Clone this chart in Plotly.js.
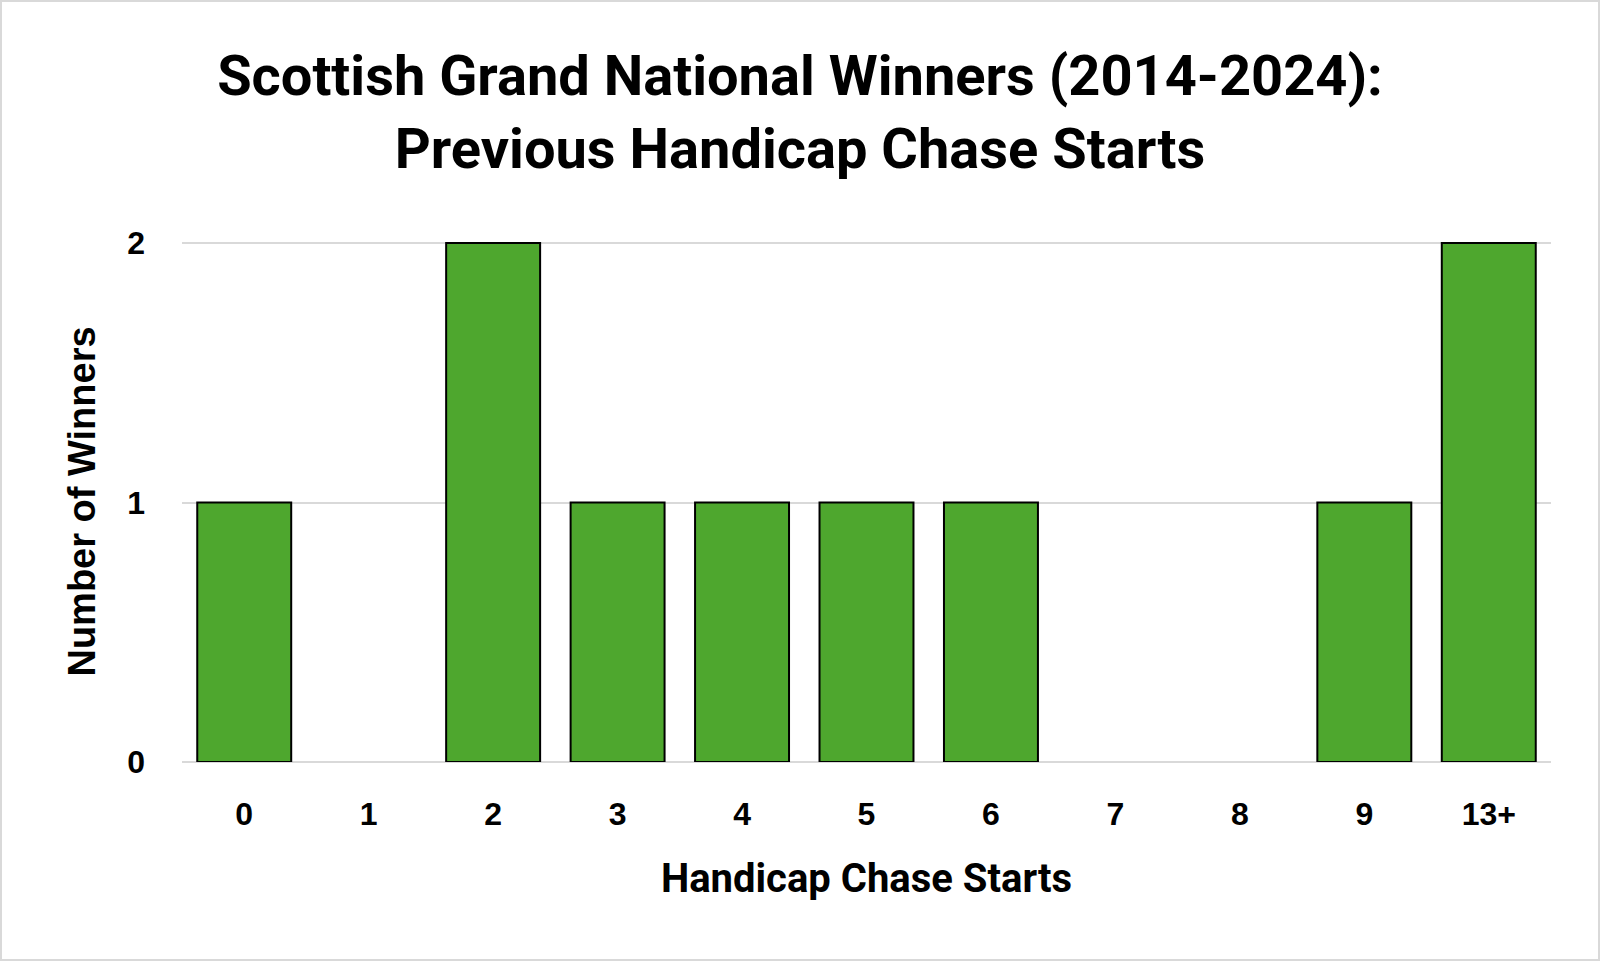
<!DOCTYPE html>
<html>
<head>
<meta charset="utf-8">
<script src="https://cdn.plot.ly/plotly-3.0.1.min.js"></script>
<style>
html,body{margin:0;padding:0;background:#fff;}
#chart{width:1596px;height:957px;border:2px solid #d9d9d9;}
</style>
</head>
<body>
<div id="chart"></div>
<script>
const categories = ["0","1","2","3","4","5","6","7","8","9","13+"];
const winners = [1,0,2,1,1,1,1,0,0,1,2];
const yTicks = [0,1,2];
const titleText = "Scottish Grand National Winners (2014-2024):<br>Previous Handicap Chase Starts";
const xTitle = "Handicap Chase Starts";
const yTitle = "Number of Winners";

const trace = {
  type: "bar",
  x: categories,
  y: winners,
  marker: {color: "#4ea72e", line: {color: "#000000", width: winners.map(v => v > 0 ? 2 : 0)}},
  hoverinfo: "x+y"
};

const layout = {
  width: 1596, height: 957,
  paper_bgcolor: "#ffffff", plot_bgcolor: "#ffffff",
  margin: {l: 180, r: 47, t: 239, b: 197},
  bargap: 0.245,
  showlegend: false,
  title: {
    text: titleText,
    font: {family: "Roboto, 'Open Sans', sans-serif", size: 56, color: "#000000", weight: 700},
    x: 0.5, xanchor: "center",
    yref: "container", y: 0.903, yanchor: "middle"
  },
  xaxis: {
    type: "category",
    tickfont: {family: "'Liberation Sans', Arial, sans-serif", size: 32, color: "#000", weight: 700},
    ticks: "", showgrid: false, showline: false, zeroline: false,
    ticklabelstandoff: 30,
    title: {text: xTitle, standoff: 32,
      font: {family: "Roboto, 'Open Sans', sans-serif", size: 40, color: "#000", weight: 700}}
  },
  yaxis: {
    range: [0, 2.008], tickvals: yTicks, ticktext: yTicks.map(String),
    tickfont: {family: "'Liberation Sans', Arial, sans-serif", size: 32, color: "#000", weight: 700},
    ticks: "", showgrid: true, gridcolor: "#d9d9d9", gridwidth: 2,
    zeroline: true, zerolinecolor: "#d9d9d9", zerolinewidth: 2,
    showline: false, ticklabelstandoff: 36,
    title: {text: yTitle, standoff: 19,
      font: {family: "'Liberation Sans', Arial, sans-serif", size: 38, color: "#000", weight: 700}}
  }
};

Plotly.newPlot("chart", [trace], layout, {displayModeBar: false, staticPlot: true});
</script>
</body>
</html>
